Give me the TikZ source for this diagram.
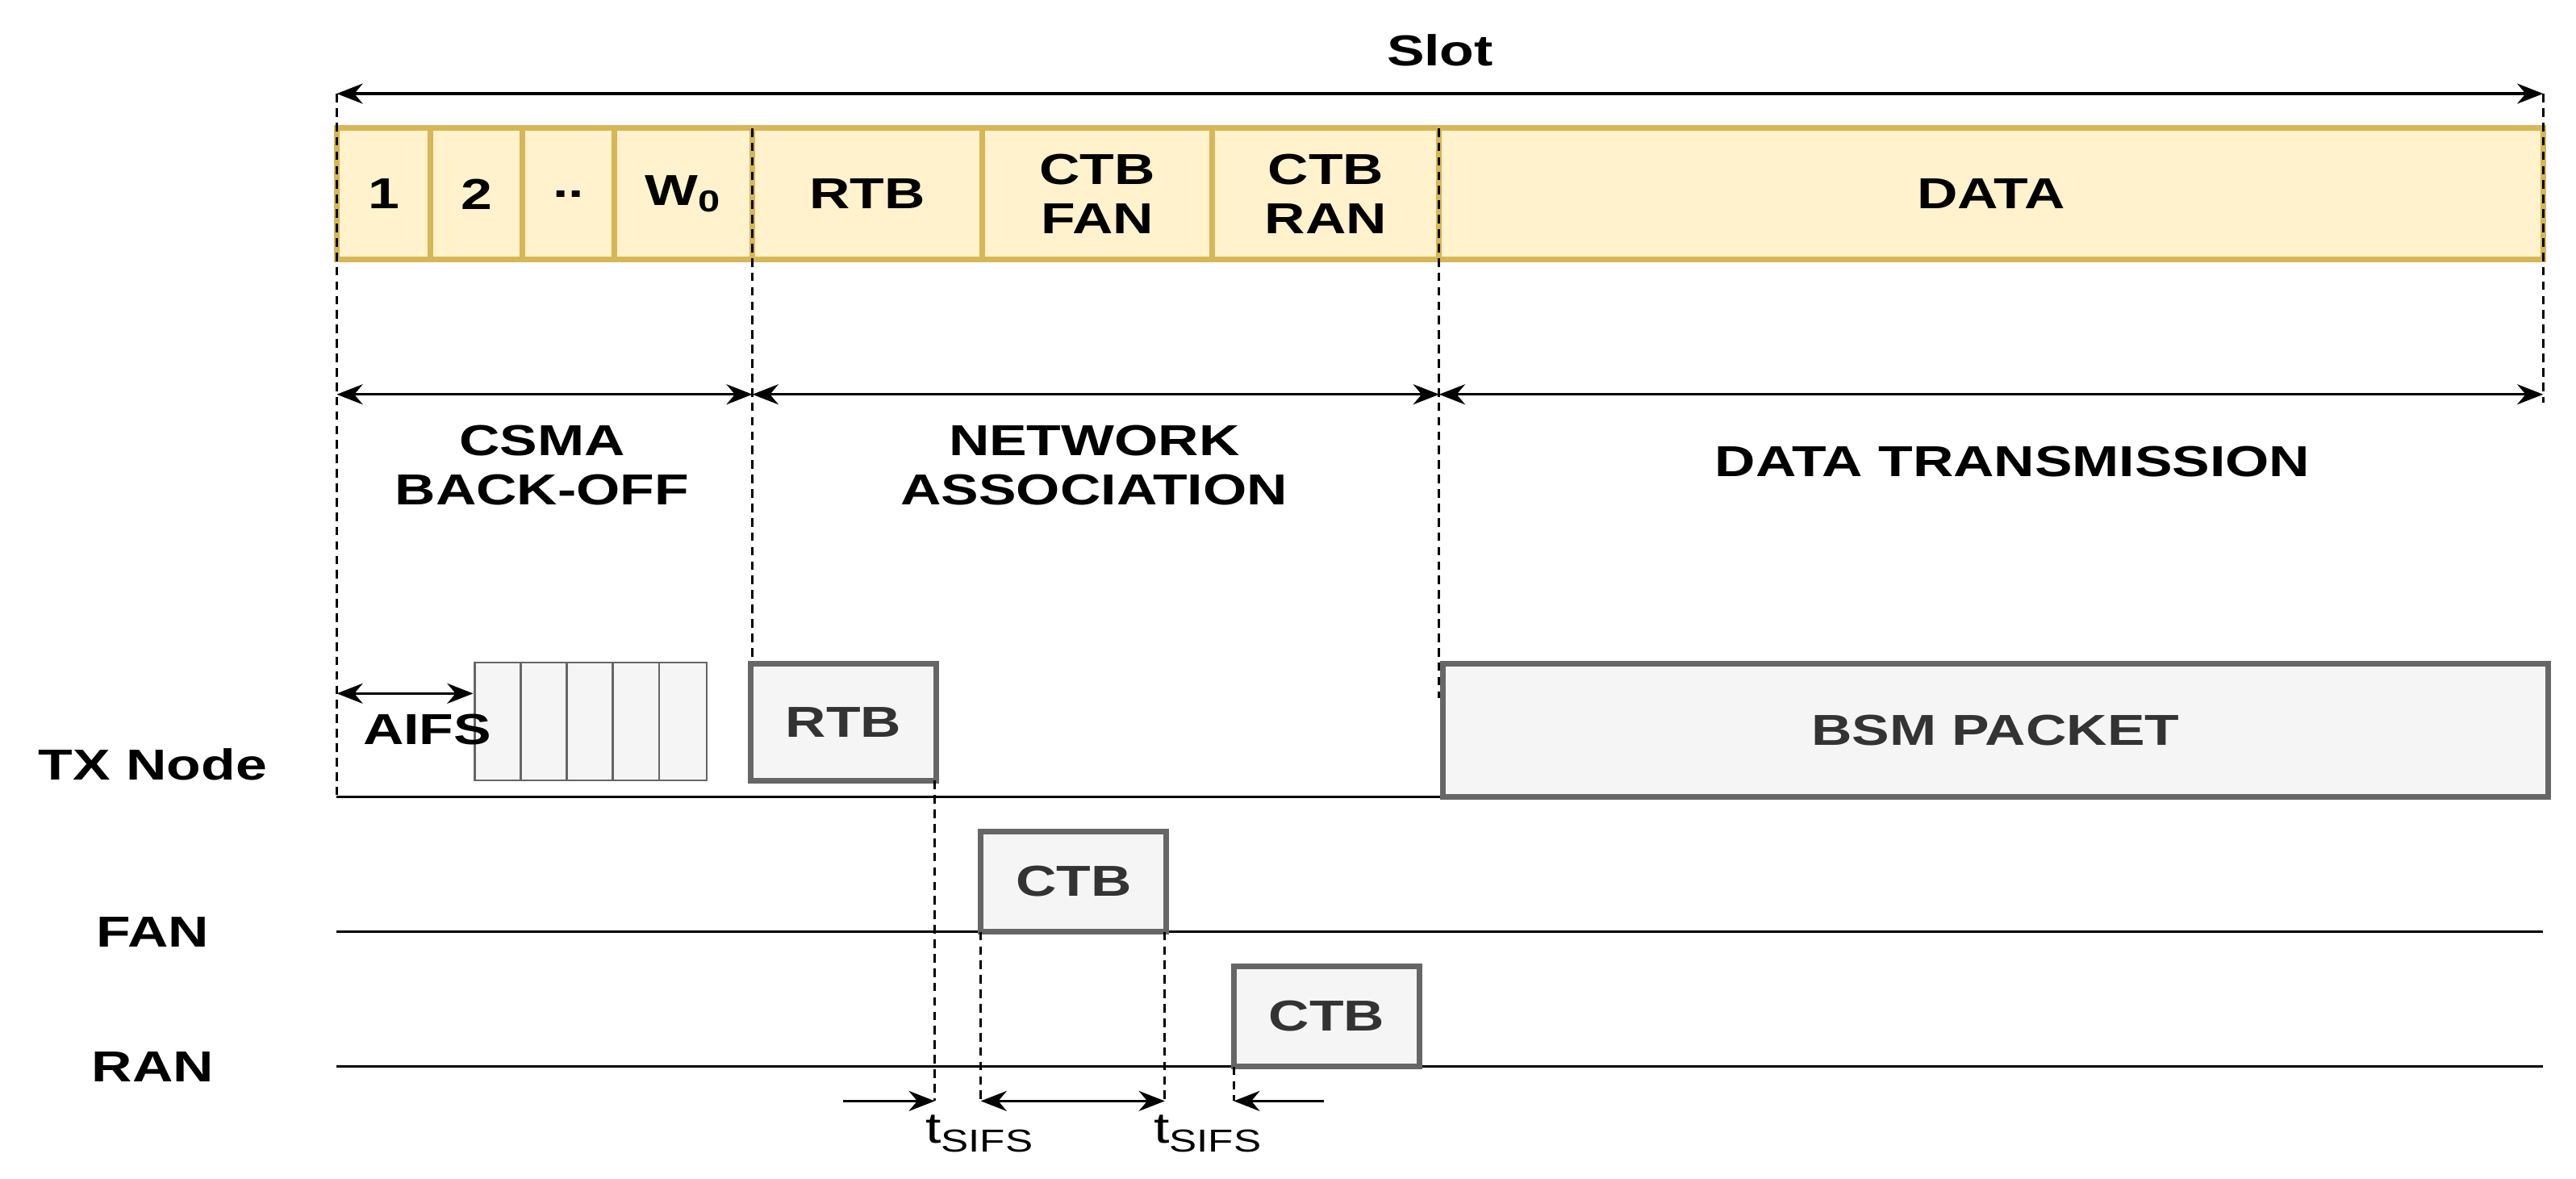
\documentclass[tikz,border=0pt]{standalone}
\usepackage{fontspec}
\setmainfont[FakeStretch=1.3]{Liberation Sans}
\usetikzlibrary{arrows.meta}
\definecolor{yf}{HTML}{FFF2CC}\definecolor{yd}{HTML}{D6B656}
\definecolor{gf}{HTML}{F5F5F5}\definecolor{gd}{HTML}{666666}\definecolor{gt}{HTML}{333333}
\begin{document}
\begin{tikzpicture}[x=0.02cm,y=-0.02cm,
 lbl/.style={font=\fontsize{15}{17}\selectfont\bfseries,align=center,inner sep=0},
 seg/.style={draw=yd,fill=yf,line width=2pt,inner sep=0,font=\fontsize{15}{17}\selectfont\bfseries,align=center},
 pkt/.style={draw=gd,fill=gf,line width=2pt,text=gt,font=\fontsize{15}{17}\selectfont\bfseries,inner sep=0},
 cell/.style={draw=gd,fill=gf,line width=0.6pt},
 dsh/.style={densely dashed,line width=0.9pt},
 arr/.style={-{Stealth[length=9pt,width=7pt]},line width=0.9pt},
 darr/.style={{Stealth[length=9pt,width=7pt]}-{Stealth[length=9pt,width=7pt]},line width=0.9pt}]
\useasboundingbox (0,0) rectangle (1568,717);
% top bar
\foreach \a/\b/\t/\n in {205/262/1/s1,262/318/2/s2,318/374/{..}/s3,374/458/{W\textsubscript{0}}/s4,458/598/RTB/s5,598/738/{CTB\\FAN}/s6,738/876/{CTB\\RAN}/s7,876/1548/DATA/s8}
 \node[seg,minimum width={(\b-\a)*0.02cm},minimum height=1.6cm] (\n) at ({(\a+\b)/2},118) {\t};
\coordinate (a0) at (205,57); \coordinate (a1) at (1548,57);
\draw[darr] (a0) -- (a1) node[lbl,midway,above=9pt] (slot) {Slot};
% dashed
\coordinate (d1) at (205,485); \draw[dsh] (a0) -- (d1);
\coordinate (d2a) at (458,78); \coordinate (d2b) at (458,400); \draw[dsh] (d2a)--(d2b);
\coordinate (d3a) at (876,78); \coordinate (d3b) at (876,425); \draw[dsh] (d3a)--(d3b);
\coordinate (d4) at (1548,245); \draw[dsh] (a1)--(d4);
% phases
\coordinate (p0) at (205,240);\coordinate (p1) at (458,240);\coordinate (p2) at (876,240);\coordinate (p3) at (1548,240);
\draw[darr] (p0)--(p1); \draw[darr] (p1)--(p2); \draw[darr] (p2)--(p3);
\node[lbl] (csma) at (330,283) {CSMA\\BACK-OFF};
\node[lbl] (net) at (666,283) {NETWORK\\ASSOCIATION};
\node[lbl] (dt) at (1225,281) {DATA TRANSMISSION};
% lines
\coordinate (t0) at (205,485);\coordinate (t1) at (1550,485);\draw[line width=0.9pt] (t0)--(t1);
\coordinate (f0) at (205,567);\coordinate (f1) at (1548,567);\draw[line width=0.9pt] (f0)--(f1);
\coordinate (r0) at (205,649);\coordinate (r1) at (1548,649);\draw[line width=0.9pt] (r0)--(r1);
\node[lbl] (tx) at (93,465) {TX Node};
\node[lbl] (fan) at (93,567) {FAN};
\node[lbl] (ran) at (93,649) {RAN};
% cells
\foreach \a/\b in {289/317,317/345,345/373,373/401,401/430} \draw[cell] (\a,403) rectangle (\b,475);
\coordinate (ai0) at (205,422);\coordinate (ai1) at (288,422);\draw[darr] (ai0)--(ai1);
\node[lbl] (aifs) at (260,444) {AIFS};
% packets
\node[pkt,minimum width=2.26cm,minimum height=1.42cm] (rtb) at (513.5,439.5) {RTB};
\node[pkt,minimum width=2.26cm,minimum height=1.22cm] (ctb1) at (653.5,536.5) {CTB};
\node[pkt,minimum width=2.26cm,minimum height=1.22cm] (ctb2) at (807.5,618.5) {CTB};
\node[pkt,minimum width=13.46cm,minimum height=1.62cm] (bsm) at (1214.5,444.5) {BSM PACKET};
% sifs
\coordinate (v1a) at (569,475);\coordinate (v1b) at (569,670);\draw[dsh] (v1a)--(v1b);
\coordinate (v2a) at (597,567);\coordinate (v2b) at (597,670);\draw[dsh] (v2a)--(v2b);
\coordinate (v3a) at (709,567);\coordinate (v3b) at (709,670);\draw[dsh] (v3a)--(v3b);
\coordinate (v4a) at (751,649);\coordinate (v4b) at (751,670);\draw[dsh] (v4a)--(v4b);
\coordinate (s0) at (513,670);\draw[arr] (s0)--(v1b);
\draw[darr] (v2b)--(v3b);
\coordinate (s3) at (806,670);\draw[arr] (s3)--(v4b);
\node[font=\fontsize{15}{17}\selectfont,inner sep=0] (ts1) at (596,690) {t\raisebox{-0.4ex}{\fontsize{11}{12}\selectfont SIFS}};
\node[font=\fontsize{15}{17}\selectfont,inner sep=0] (ts2) at (735,690) {t\raisebox{-0.4ex}{\fontsize{11}{12}\selectfont SIFS}};
\end{tikzpicture}
\end{document}
